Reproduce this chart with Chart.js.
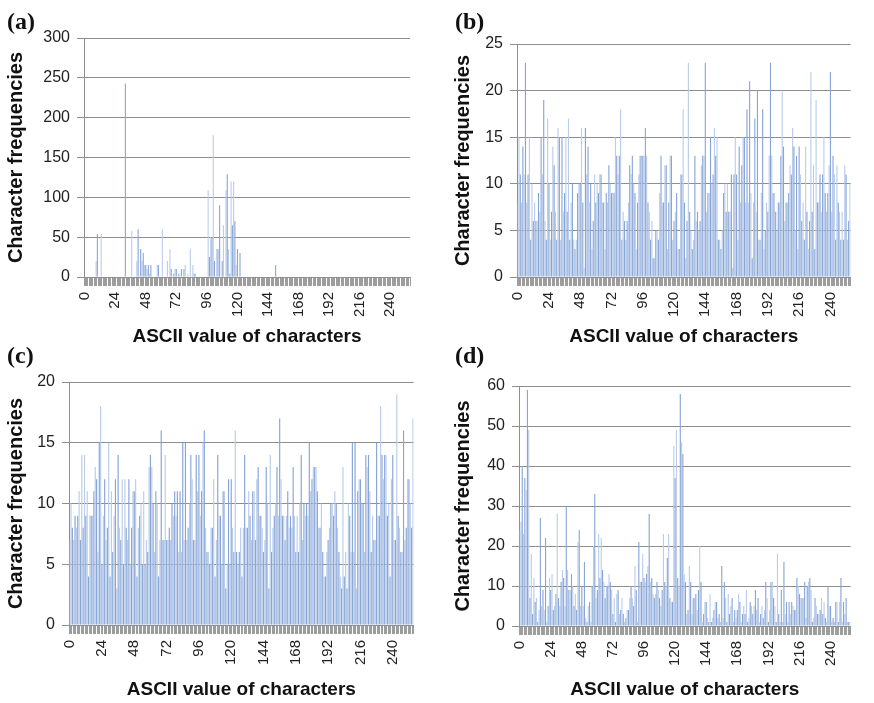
<!DOCTYPE html>
<html>
<head>
<meta charset="utf-8">
<script src="https://cdn.jsdelivr.net/npm/chart.js@4.4.0/dist/chart.umd.min.js"></script>
<style>
  html, body { margin: 0; padding: 0; background: #fff; }
  body { width: 874px; height: 703px; position: relative; overflow: hidden; }
  .panel { position: absolute; }
  .tag { position: absolute; font: bold 24px "Liberation Serif", "Times New Roman", serif; line-height: 1; color: #111; }
</style>
</head>
<body>
<div class="panel" style="left:0;top:0"><canvas id="chartA" width="437" height="351"></canvas></div>
<div class="panel" style="left:437px;top:0"><canvas id="chartB" width="437" height="351"></canvas></div>
<div class="panel" style="left:0;top:351px"><canvas id="chartC" width="437" height="352"></canvas></div>
<div class="panel" style="left:437px;top:351px"><canvas id="chartD" width="437" height="352"></canvas></div>
<div class="tag" style="left:7px;top:9px">(a)</div>
<div class="tag" style="left:455px;top:9px">(b)</div>
<div class="tag" style="left:7px;top:343px">(c)</div>
<div class="tag" style="left:455px;top:343px">(d)</div>

<script>
// character frequency by ASCII code, 0..255
const asciiCodes = Array.from({ length: 256 }, (_, i) => String(i));
const tickLabels = ["0", "24", "48", "72", "96", "120", "144", "168", "192", "216", "240"];

// (a)
const freqA = [
  0, 0, 0, 0, 0, 0, 0, 0, 0, 20, 54, 0, 0, 54, 0, 0,
  0, 0, 0, 0, 0, 0, 0, 0, 0, 0, 0, 0, 0, 0, 0, 0,
  243, 0, 0, 0, 0, 58, 0, 0, 0, 20, 60, 0, 35, 20, 30, 15,
  15, 10, 15, 4, 15, 0, 0, 0, 0, 15, 15, 0, 0, 60, 0, 0,
  0, 20, 0, 35, 10, 0, 4, 10, 10, 0, 4, 0, 10, 0, 10, 15,
  0, 4, 0, 35, 0, 15, 4, 4, 0, 0, 0, 0, 0, 0, 0, 0,
  0, 109, 25, 50, 50, 178, 20, 0, 35, 35, 90, 0, 20, 65, 0, 109,
  129, 35, 4, 120, 65, 120, 70, 15, 35, 0, 30, 0, 0, 0, 0, 0,
  0, 0, 0, 0, 0, 0, 0, 0, 0, 0, 0, 0, 0, 0, 0, 0,
  0, 0, 0, 0, 0, 0, 15, 0, 0, 0, 0, 0, 0, 0, 0, 0,
  0, 0, 0, 0, 0, 0, 0, 0, 0, 0, 0, 0, 0, 0, 0, 0,
  0, 0, 0, 0, 0, 0, 0, 0, 0, 0, 0, 0, 0, 0, 0, 0,
  0, 0, 0, 0, 0, 0, 0, 0, 0, 0, 0, 0, 0, 0, 0, 0,
  0, 0, 0, 0, 0, 0, 0, 0, 0, 0, 0, 0, 0, 0, 0, 0,
  0, 0, 0, 0, 0, 0, 0, 0, 0, 0, 0, 0, 0, 0, 0, 0,
  0, 0, 0, 0, 0, 0, 0, 0, 0, 0, 0, 0, 0, 0, 0, 0
];

// (b)
const freqB = [
  8,
  15, 11, 8, 14, 11, 23, 8, 11, 15, 4,
  10, 6, 8, 6, 6, 9, 7, 15, 11, 19,
  6, 4, 17, 10, 4, 7, 14, 12, 7, 4,
  16, 15, 4, 15, 7, 9, 15, 7, 17, 4,
  8, 10, 4, 3, 4, 9, 10, 10, 16, 8,
  1, 16, 11, 14, 8, 10, 3, 6, 11, 8,
  10, 9, 11, 11, 8, 8, 3, 9, 8, 12,
  10, 9, 9, 9, 15, 13, 11, 13, 18, 4,
  7, 6, 4, 6, 8, 12, 11, 13, 10, 9,
  3, 8, 11, 13, 13, 13, 13, 16, 13, 8,
  7, 4, 6, 2, 2, 5, 5, 4, 9, 13,
  8, 8, 12, 12, 3, 8, 13, 13, 4, 6,
  7, 9, 3, 3,
  11, 11, 18, 8, 2, 6, 23, 7, 5, 3,
  4, 13, 6, 7, 5, 6, 12, 13, 13, 23,
  7, 9, 9, 15, 10, 11, 16, 13, 15, 4,
  4, 3, 5, 9, 10, 7, 10, 7, 7, 11,
  1, 11, 15, 11, 4, 14, 8, 12, 15, 15,
  8, 18, 8, 21, 9, 2, 8, 17, 7, 20,
  4, 4, 9, 18, 3, 5, 8, 7, 13, 23,
  13, 9, 9, 7, 5, 8, 8, 13, 20, 14,
  6, 8, 8, 9, 12, 11, 16, 14, 5, 13,
  3, 14, 11, 6, 8, 4, 14, 7, 3, 6,
  22, 7, 12, 3, 19, 8, 8, 11, 7, 11,
  15, 9, 7, 9, 12, 22, 7, 13, 11, 4,
  12, 8, 7, 4, 7, 4, 12, 11, 4, 6,
  10
];

// (c)
const freqC = [
  7, 10, 8, 7, 9, 8, 9, 11, 7, 14,
  8, 14, 9, 11, 4, 9, 9, 9, 11, 13,
  12, 6, 15, 18, 5, 9, 12, 7, 8, 15,
  4, 11, 6, 9, 12, 3, 14, 8, 7, 12,
  5, 12, 8, 7, 12, 5, 8, 11, 11, 12,
  4, 8, 9, 10, 5, 11, 5, 7, 6, 13,
  14, 13, 10, 6, 11, 10, 4, 7, 16, 7,
  7, 14, 7, 7, 8, 7, 10, 9, 11, 9,
  11, 6, 11, 6, 15, 7, 15, 7, 8, 10,
  14, 12, 7, 7, 14, 11, 14, 9, 11, 15,
  16, 8, 6, 6, 5, 8, 8, 12, 4, 7,
  14, 9, 9, 5, 11, 11, 3, 5, 12, 5,
  12, 8, 6, 16, 6, 5,
  6, 8, 4, 8, 14, 8, 8, 11, 9, 7,
  11, 11, 7, 12, 13, 9, 9, 8, 6, 7,
  13, 10, 3, 14, 6, 8, 9, 10, 13, 9,
  17, 12, 9, 9, 7, 9, 11, 8, 9, 8,
  13, 9, 6, 9, 6, 10, 14, 7, 10, 9,
  10, 9, 15, 11, 12, 13, 13, 13, 11, 8,
  8, 10, 6, 4, 4, 6, 7, 8, 10, 10,
  9, 11, 10, 8, 6, 4, 3, 13, 4, 6,
  3, 10, 9, 6, 15, 6, 15, 3, 11, 12,
  12, 10, 10, 6, 14, 13, 14, 11, 6, 9,
  7, 7, 15, 9, 9, 18, 14, 12, 14, 14,
  9, 10, 4, 12, 14, 7, 7, 19, 9, 8,
  6, 6, 16, 7, 8, 12, 12, 10, 8, 17
];

// (d)
const freqD = [
  24, 26, 40, 23, 37, 34, 59, 49, 7, 18,
  3, 12, 6, 7, 1, 4, 27, 5,
  9, 4, 22, 1, 5, 12, 9, 13, 4, 5,
  8, 28, 7, 5, 11, 14, 12, 5, 30,
  14, 9, 9, 13, 10, 5, 8, 4, 21,
  24, 5, 10, 5, 16, 2, 1, 5, 6, 1,
  10, 20, 33, 7, 9, 23, 12, 22, 14, 11,
  7, 10, 10, 13, 11, 9, 3, 7, 1,
  8, 9, 3, 4, 7, 3, 1, 2, 4,
  4, 7, 10, 7, 5, 15, 9, 1, 21, 11,
  11, 18, 12, 11, 13, 15, 28, 11, 12, 8,
  7, 8, 11, 9, 7, 5, 9, 23, 11,
  10, 17, 23, 7, 6, 6,
  45, 37, 49, 12, 10, 58, 46, 43, 13, 11,
  3, 4, 15, 11, 3, 7, 7, 8, 4, 9,
  20, 11, 1, 3, 6, 6, 2, 1, 8, 1,
  2, 4, 6, 6, 2, 3, 1, 15, 2, 11,
  7, 1, 8, 3, 5, 7, 1, 4, 2, 4,
  8, 6, 1, 3, 5, 3, 9, 1, 2, 6,
  5, 3, 5, 9, 4, 7, 1, 3, 5, 2,
  4, 11, 7, 1, 4, 11, 11, 7, 5, 1,
  18, 3, 1, 9, 1, 16, 3, 6, 1, 6,
  3, 6, 5, 4, 4, 12, 10, 8, 7, 7,
  7, 11, 2, 10, 11, 12, 9, 1, 2, 7,
  5, 3, 3, 4, 7, 3, 6, 2, 1, 10,
  5, 5, 1, 2, 1, 6, 6, 1, 6, 12,
  1, 6, 3, 7, 1, 1, 1
];

Chart.defaults.font.family = "'Liberation Sans', Arial, sans-serif";
Chart.defaults.color = "#222";

const gridGray = "#8e8e8e";

function makePanel(id, values, o) {
  return new Chart(document.getElementById(id), {
    type: "bar",
    data: {
      labels: asciiCodes,
      datasets: [
        {
          data: values,
          backgroundColor: (ctx) => (ctx.dataIndex % 2 ? "#b9cceb" : "#86a4d6"),
          borderWidth: 0,
          barPercentage: 0.85,
          categoryPercentage: 1,
        },
      ],
    },
    options: {
      responsive: false,
      animation: false,
      devicePixelRatio: 1,
      layout: { padding: { left: 0, top: o.top, right: o.right, bottom: 0 } },
      plugins: { legend: { display: false }, tooltip: { enabled: false } },
      scales: {
        x: {
          offset: true,
          grid: {
            display: true,
            drawOnChartArea: false,
            drawTicks: true,
            tickLength: 9,
            color: "#9d9d9d",
          },
          border: { display: false },
          ticks: {
            autoSkip: false,
            minRotation: 90,
            maxRotation: 90,
            padding: 6,
            font: { size: 15 },
            color: "#222",
            callback: (v, i) => (tickLabels.includes(asciiCodes[i]) ? asciiCodes[i] : ""),
          },
          title: {
            display: true,
            text: "ASCII value of characters",
            font: { size: 19, weight: "bold" },
            color: "#111",
            padding: { top: 0, bottom: o.titleBottom },
          },
          afterFit: (s) => {
            s.height = o.xHeight;
          },
        },
        y: {
          min: 0,
          max: o.max,
          ticks: { stepSize: o.step, padding: 7, font: { size: 16 }, color: "#222" },
          grid: { color: gridGray, tickLength: 7, drawTicks: true },
          border: { display: true, color: gridGray },
          title: {
            display: true,
            text: "Character frequencies",
            font: { size: 20, weight: "bold" },
            color: "#111",
            padding: { top: o.titleLeft, bottom: 0 },
          },
          afterFit: (s) => {
            s.width = o.yWidth;
          },
        },
      },
    },
  });
}

makePanel("chartA", freqA, { max: 300, step: 50, top: 38, right: 27, yWidth: 84, xHeight: 74, titleBottom: 3, titleLeft: 4 });
makePanel("chartB", freqB, { max: 25, step: 5, top: 44, right: 16, yWidth: 80, xHeight: 74, titleBottom: 3, titleLeft: 14 });
makePanel("chartC", freqC, { max: 20, step: 5, top: 31, right: 22, yWidth: 69, xHeight: 78, titleBottom: 2, titleLeft: 4 });
makePanel("chartD", freqD, { max: 60, step: 10, top: 35, right: 0, yWidth: 82, xHeight: 77, titleBottom: 2, titleLeft: 14 });
</script>
</body>
</html>
